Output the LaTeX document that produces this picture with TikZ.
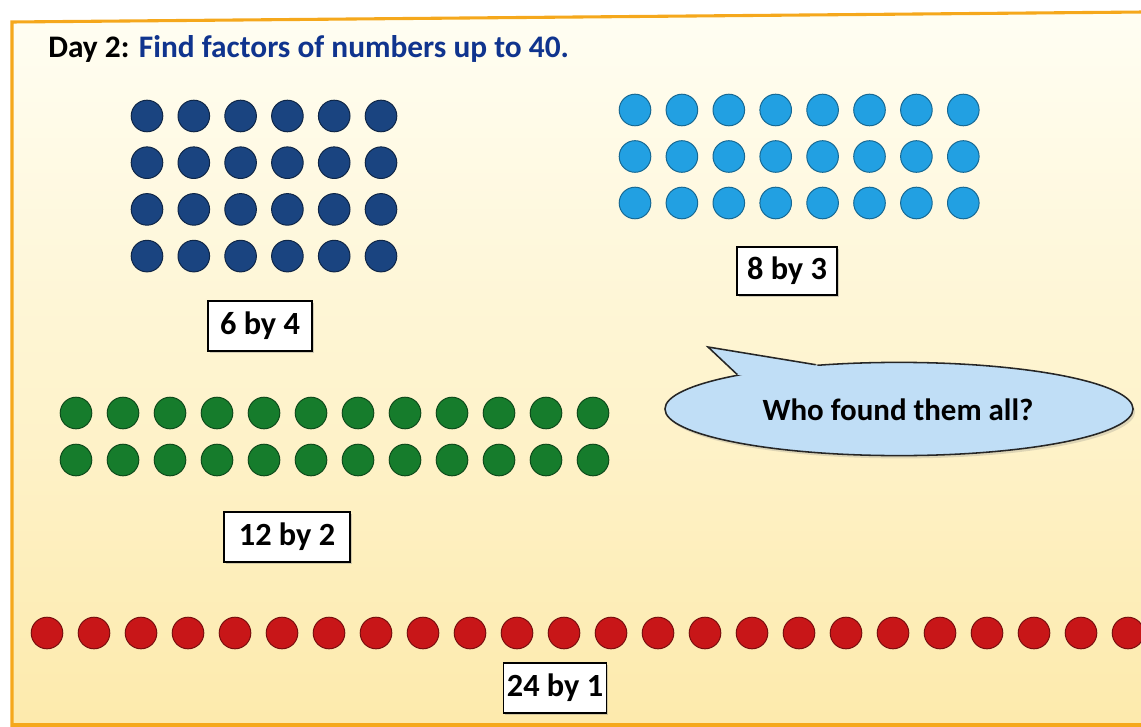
\documentclass[tikz,border=0pt]{standalone}
\usepackage{fontspec}
\setmainfont{Carlito}
\usepackage{tikz}
\usetikzlibrary{positioning,calc,shapes.geometric,shadows}
\definecolor{FrameOrange}{RGB}{245,168,28}
\definecolor{PaperTop}{RGB}{255,254,243}
\definecolor{PaperBottom}{RGB}{253,234,172}
\definecolor{TitleBlue}{RGB}{16,52,142}
\definecolor{CounterNavy}{RGB}{26,68,128}
\definecolor{CounterSky}{RGB}{34,160,226}
\definecolor{CounterGreen}{RGB}{22,124,44}
\definecolor{CounterRed}{RGB}{200,22,24}
\definecolor{BubbleBlue}{RGB}{192,222,246}

\tikzset{
  counter/.style={circle,minimum size=7.9mm,inner sep=0pt,line width=0.7pt},
  navydot/.style={counter,fill=CounterNavy,draw=CounterNavy!55!black},
  skydot/.style={counter,fill=CounterSky,draw=CounterSky!65!black},
  greendot/.style={counter,fill=CounterGreen,draw=CounterGreen!60!black},
  reddot/.style={counter,fill=CounterRed,draw=CounterRed!60!black},
  sizebox/.style={draw=black,fill=white,line width=1pt,minimum height=1.25cm,
    inner xsep=6pt,font=\bfseries\fontsize{23}{27}\selectfont,
    drop shadow={shadow xshift=1.2pt,shadow yshift=-1.5pt,opacity=0.35}},
}

\begin{document}
\begin{tikzpicture}[x=0.025cm,y=-0.025cm]
	\useasboundingbox (0,0) rectangle (1141,727);
	% paper and frame
	\shade[top color=PaperTop,bottom color=PaperBottom] (12,22) -- (1145,12) -- (1145,725) -- (12,727) -- cycle;
	\draw[FrameOrange,line width=2.2pt] (12,727) -- (12,22) -- (1145,12);
	\draw[FrameOrange,line width=2.2pt] (12,725) -- (1145,725);

	% title
	\node[anchor=base west,inner sep=0pt,font=\bfseries\fontsize{22.3}{27}\selectfont] (title) at (48,58)
		{Day 2: \textcolor{TitleBlue}{Find factors of numbers up to 40.}};

	% 6 by 4
	\foreach \c in {0,...,5}
		\foreach \r in {0,...,3}
			\node[navydot] (navy-\r-\c) at ({147+46.8*\c},{116+46.7*\r}) {};
	\node[sizebox,minimum width=2.6cm] (navylabel) at (260,326) {6 by 4};

	% 8 by 3
	\foreach \c in {0,...,7}
		\foreach \r in {0,...,2}
			\node[skydot] (sky-\r-\c) at ({635+46.9*\c},{110+46.5*\r}) {};
	\node[sizebox,minimum width=2.5cm,minimum height=1.2cm] (skylabel) at (787,271) {8 by 3};

	% 12 by 2
	\foreach \c in {0,...,11}
		\foreach \r in {0,1}
			\node[greendot] (green-\r-\c) at ({76+47*\c},{413+47*\r}) {};
	\node[sizebox,minimum width=3.15cm] (greenlabel) at (287,537) {12 by 2};

	% 24 by 1
	\foreach \c in {0,...,23}
		\node[reddot] (red-\c) at ({47+47*\c},633) {};
	\node[sizebox,inner xsep=2.5pt] (redlabel) at (555,688) {24 by 1};

	% speech bubble
	\node[ellipse,draw=black!85,fill=BubbleBlue,line width=1.1pt,minimum width=11.7cm,minimum height=2.33cm,
		drop shadow={shadow xshift=1.5pt,shadow yshift=-2pt,opacity=0.25}] (bubble) at (899,409) {};
	\coordinate (tailtip) at (708,347);
	\fill[BubbleBlue] ($(bubble.168)!0.1!(bubble.center)$) -- (bubble.168) -- (tailtip) -- (bubble.152) -- ($(bubble.152)!0.1!(bubble.center)$) -- cycle;
	\draw[black!85,line width=1.1pt,line join=miter] (bubble.168) -- (tailtip) -- (bubble.152);
	\node[font=\bfseries\fontsize{22}{26}\selectfont] (question) at (898,410) {Who found them all?};
\end{tikzpicture}
\end{document}
